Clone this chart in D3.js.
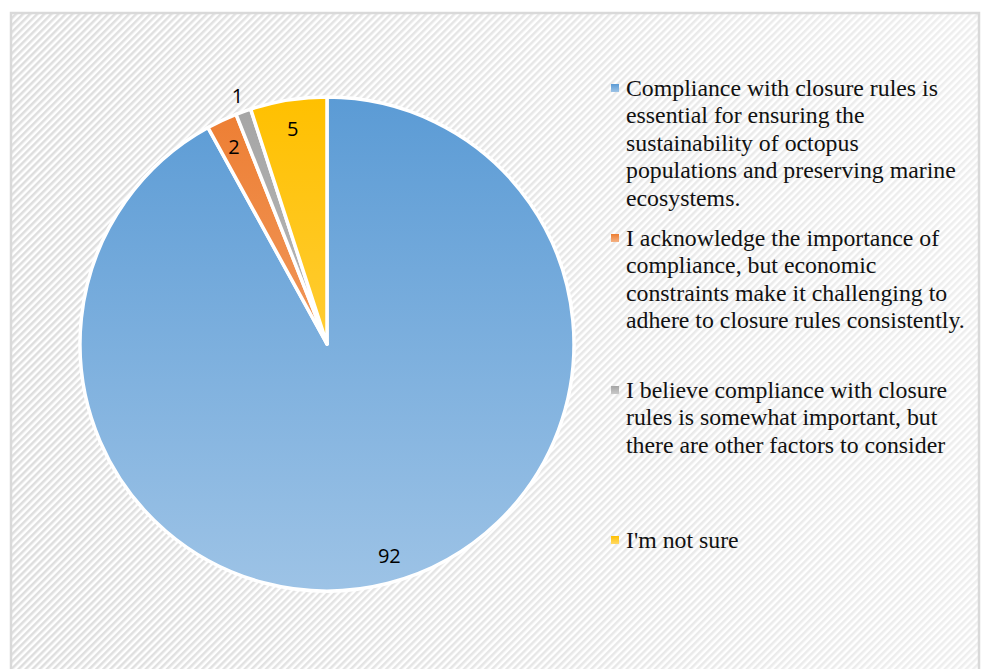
<!DOCTYPE html>
<html>
<head>
<meta charset="utf-8">
<script src="https://cdn.jsdelivr.net/npm/d3@7"></script>
<style>
  html, body { margin: 0; padding: 0; background: #ffffff; }
  svg { display: block; }
</style>
</head>
<body>
<svg id="chart" width="982" height="669"></svg>
<script>
// Survey responses on compliance with octopus fishery closure rules
const categories = [
  "Compliance with closure rules is essential for ensuring the sustainability of octopus populations and preserving marine ecosystems.",
  "I acknowledge the importance of compliance, but economic constraints make it challenging to adhere to closure rules consistently.",
  "I believe compliance with closure rules is somewhat important, but there are other factors to consider",
  "I'm not sure"
];
const values = [92, 2, 1, 5];
const legendLines = [
  ["Compliance with closure rules is", "essential for ensuring the", "sustainability of octopus", "populations and preserving marine", "ecosystems."],
  ["I acknowledge the importance of", "compliance, but economic", "constraints make it challenging to", "adhere to closure rules consistently."],
  ["I believe compliance with closure", "rules is somewhat important, but", "there are other factors to consider"],
  ["I'm not sure"]
];
const colorsTop = ["#5b9bd5", "#ed7d31", "#a5a5a5", "#ffc000"];
const colorsBottom = ["#9dc3e6", "#f4b183", "#c9c9c9", "#ffd966"];

const svg = d3.select("#chart");
const defs = svg.append("defs");

// Diagonal hatch background
const pat = defs.append("pattern")
  .attr("id", "hatch")
  .attr("patternUnits", "userSpaceOnUse")
  .attr("width", 5).attr("height", 5)
  .attr("patternTransform", "rotate(45)");
pat.append("rect").attr("width", 5).attr("height", 5).attr("fill", "#ffffff");
pat.append("rect").attr("width", 2.5).attr("height", 5).attr("fill", "#dedede");

const fade = defs.append("linearGradient").attr("id", "fade")
  .attr("x1", 0).attr("y1", 0).attr("x2", 1).attr("y2", 0);
fade.append("stop").attr("offset", "0%").attr("stop-color", "#fff").attr("stop-opacity", 0);
fade.append("stop").attr("offset", "100%").attr("stop-color", "#fff").attr("stop-opacity", 0.5);

svg.append("rect").attr("x", 11).attr("y", 13).attr("width", 968).attr("height", 660)
  .attr("fill", "url(#hatch)");
svg.append("rect").attr("x", 11).attr("y", 13).attr("width", 968).attr("height", 660)
  .attr("fill", "url(#fade)");
svg.append("rect").attr("x", 11).attr("y", 13).attr("width", 968).attr("height", 660)
  .attr("fill", "none").attr("stroke", "#d9d9d9").attr("stroke-width", 2.5);

// Pie
const cx = 327, cy = 344, r = 247;
colorsTop.forEach((c, i) => {
  const g = defs.append("linearGradient").attr("id", "grad" + i)
    .attr("gradientUnits", "userSpaceOnUse")
    .attr("x1", 0).attr("y1", -r).attr("x2", 0).attr("y2", r);
  g.append("stop").attr("offset", "0%").attr("stop-color", c);
  g.append("stop").attr("offset", "100%").attr("stop-color", colorsBottom[i]);
});

const pie = d3.pie().sort(null).value(d => d)(values);
const arc = d3.arc().innerRadius(0).outerRadius(r);
const gPie = svg.append("g").attr("transform", `translate(${cx},${cy})`);

gPie.selectAll("path").data(pie).join("path")
  .attr("d", arc)
  .attr("fill", (d, i) => `url(#grad${i})`)
  .attr("stroke", "#ffffff")
  .attr("stroke-width", 3.5)
  .attr("stroke-linejoin", "round");

// Value labels: inside the slice, or just outside for very thin slices
gPie.selectAll("text.val").data(pie).join("text")
  .attr("class", "val")
  .each(function (d) {
    const a = (d.startAngle + d.endAngle) / 2;
    const k = d.value < 2 ? 1.07 : 0.885;
    d3.select(this)
      .attr("x", Math.sin(a) * r * k + (d.value > 50 ? 8 : 0))
      .attr("y", -Math.cos(a) * r * k);
  })
  .attr("text-anchor", "middle")
  .attr("dominant-baseline", "central")
  .attr("font-family", "'Open Sans', Lato, sans-serif")
  .attr("font-size", 20)
  .attr("fill", "#000")
  .text(d => d.value);

// Legend
const legendY = [88, 238, 390, 540];
const lineH = 27.5;
const gLeg = svg.append("g");
legendLines.forEach((lines, i) => {
  const g = gLeg.append("g").attr("transform", `translate(0,${legendY[i]})`);
  const lg = defs.append("linearGradient").attr("id", "lg" + i)
    .attr("x1", 0).attr("y1", 0).attr("x2", 0).attr("y2", 1);
  lg.append("stop").attr("offset", "0%").attr("stop-color", colorsTop[i]);
  lg.append("stop").attr("offset", "100%").attr("stop-color", colorsBottom[i]);
  g.append("rect").attr("x", 611).attr("y", -4).attr("width", 8).attr("height", 8)
    .attr("fill", `url(#lg${i})`);
  g.append("text")
    .attr("font-family", "'Times New Roman', 'Liberation Serif', serif")
    .attr("font-size", 23.8)
    .attr("fill", "#111")
    .selectAll("tspan").data(lines).join("tspan")
    .attr("x", 626)
    .attr("y", (d, j) => j * lineH)
    .attr("dy", "0.33em")
    .text(d => d);
});
</script>
</body>
</html>
